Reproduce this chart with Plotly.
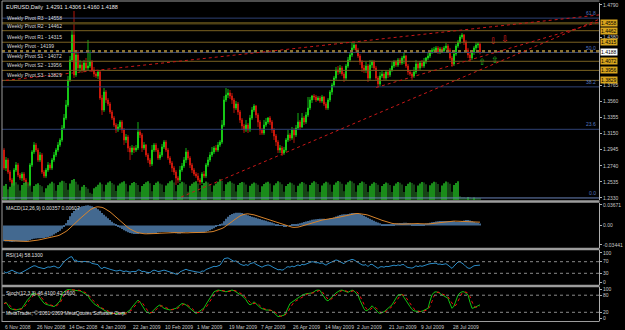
import plotly.graph_objects as go

# ---------------- DATA ----------------
date_labels = ["6 Nov 2008", "26 Nov 2008", "14 Dec 2008", "4 Jan 2009", "22 Jan 2009",
               "10 Feb 2009", "1 Mar 2009", "19 Mar 2009", "7 Apr 2009", "26 Apr 2009",
               "14 May 2009", "2 Jun 2009", "21 Jun 2009", "9 Jul 2009", "28 Jul 2009"]
date_label_bars = [0, 16, 32, 48, 64, 80, 96, 112, 128, 144, 160, 176, 192, 208, 224]

first_open = 1.2941
closes = [
1.2712, 1.2814, 1.2661, 1.2559, 1.2495, 1.2686, 1.2750, 1.2623, 1.2584, 1.2635,
1.2559, 1.2508, 1.2482, 1.2750, 1.2916, 1.3005, 1.2941, 1.2814, 1.2878, 1.2661,
1.2610, 1.2686, 1.2750, 1.2712, 1.2814, 1.2878, 1.2941, 1.3005, 1.3069, 1.3222,
1.3349, 1.3515, 1.3834, 1.4089, 1.4408, 1.3898, 1.4153, 1.3987, 1.4025, 1.3961,
1.4051, 1.3987, 1.4012, 1.4063, 1.3961, 1.3910, 1.3885, 1.3936, 1.3604, 1.3451,
1.3681, 1.3579, 1.3528, 1.3426, 1.3349, 1.3260, 1.3196, 1.3235, 1.3298, 1.3196,
1.3069, 1.3107, 1.2967, 1.2916, 1.2967, 1.2941, 1.2967, 1.3171, 1.3133, 1.2967,
1.3005, 1.2878, 1.2814, 1.2763, 1.2941, 1.3005, 1.2941, 1.2839, 1.2878, 1.2980,
1.3043, 1.2941, 1.2839, 1.2776, 1.2712, 1.2661, 1.2584, 1.2559, 1.2686, 1.2737,
1.2814, 1.2916, 1.2839, 1.2750, 1.2686, 1.2635, 1.2610, 1.2559, 1.2533, 1.2635,
1.2610, 1.2750, 1.2814, 1.2878, 1.2916, 1.2967, 1.2941, 1.3005, 1.3043, 1.3260,
1.3579, 1.3643, 1.3668, 1.3630, 1.3579, 1.3477, 1.3528, 1.3426, 1.3324, 1.3247,
1.3196, 1.3260, 1.3196, 1.3349, 1.3451, 1.3502, 1.3388, 1.3298, 1.3196, 1.3158,
1.3260, 1.3298, 1.3349, 1.3298, 1.3196, 1.3120, 1.3043, 1.2941, 1.2967, 1.2903,
1.2941, 1.3069, 1.3133, 1.3094, 1.3196, 1.3133, 1.3222, 1.3298, 1.3235, 1.3349,
1.3298, 1.3388, 1.3477, 1.3579, 1.3630, 1.3617, 1.3579, 1.3604, 1.3566, 1.3617,
1.3528, 1.3477, 1.3579, 1.3681, 1.3770, 1.3859, 1.3961, 1.3936, 1.3987, 1.3910,
1.3859, 1.4012, 1.4089, 1.4153, 1.4242, 1.4280, 1.4216, 1.4140, 1.4063, 1.3987,
1.3961, 1.4012, 1.3859, 1.4025, 1.4063, 1.3987, 1.3859, 1.3783, 1.3885, 1.3910,
1.3859, 1.3936, 1.3898, 1.3961, 1.4012, 1.4063, 1.4025, 1.4089, 1.4051, 1.4114,
1.4140, 1.4012, 1.3936, 1.3910, 1.3885, 1.3936, 1.4038, 1.3987, 1.4051, 1.4012,
1.4063, 1.4114, 1.4140, 1.4191, 1.4216, 1.4216, 1.4242, 1.4191, 1.4229, 1.4204,
1.4242, 1.4267, 1.4216, 1.4114, 1.4038, 1.4165, 1.4267, 1.4318, 1.4382, 1.4408,
1.4318, 1.4216, 1.4153, 1.4114, 1.4191, 1.4242, 1.4280, 1.4291, 1.4188,
]
highs = [
1.2967, 1.2852, 1.2839, 1.2686, 1.2584, 1.2712, 1.2788, 1.2776, 1.2648, 1.2661,
1.2661, 1.2584, 1.2533, 1.2776, 1.2941, 1.3043, 1.3031, 1.2967, 1.2916, 1.2903,
1.2686, 1.2712, 1.2788, 1.2776, 1.2839, 1.2916, 1.2967, 1.3043, 1.3094, 1.3260,
1.3400, 1.3579, 1.3885, 1.4140, 1.4471, 1.4713, 1.4216, 1.4216, 1.4089, 1.4063,
1.4089, 1.4114, 1.4344, 1.4216, 1.4089, 1.4000, 1.3936, 1.3961, 1.3961, 1.3643,
1.3732, 1.3706, 1.3604, 1.3553, 1.3451, 1.3375, 1.3286, 1.3273, 1.3324, 1.3324,
1.3222, 1.3145, 1.3133, 1.2992, 1.3005, 1.2992, 1.3005, 1.3298, 1.3196, 1.3158,
1.3043, 1.3018, 1.2903, 1.2839, 1.3005, 1.3031, 1.3031, 1.2967, 1.2916, 1.3018,
1.3069, 1.3069, 1.2967, 1.2865, 1.2801, 1.2737, 1.2686, 1.2610, 1.2737, 1.2776,
1.2852, 1.2967, 1.2941, 1.2865, 1.2776, 1.2712, 1.2661, 1.2648, 1.2584, 1.2661,
1.2674, 1.2776, 1.2852, 1.2916, 1.2980, 1.2992, 1.3005, 1.3043, 1.3069, 1.3324,
1.3630, 1.3732, 1.3719, 1.3706, 1.3668, 1.3604, 1.3566, 1.3553, 1.3451, 1.3349,
1.3273, 1.3324, 1.3286, 1.3388, 1.3490, 1.3528, 1.3515, 1.3413, 1.3324, 1.3222,
1.3324, 1.3349, 1.3362, 1.3375, 1.3324, 1.3222, 1.3145, 1.3069, 1.3005, 1.2992,
1.2980, 1.3094, 1.3196, 1.3158, 1.3235, 1.3222, 1.3260, 1.3413, 1.3324, 1.3413,
1.3375, 1.3426, 1.3617, 1.3617, 1.3643, 1.3655, 1.3643, 1.3630, 1.3630, 1.3643,
1.3630, 1.3553, 1.3604, 1.3706, 1.3796, 1.3885, 1.4000, 1.4012, 1.4025, 1.4012,
1.3936, 1.4038, 1.4127, 1.4178, 1.4318, 1.4318, 1.4293, 1.4242, 1.4165, 1.4089,
1.4025, 1.4063, 1.4038, 1.4089, 1.4089, 1.4089, 1.4012, 1.3885, 1.3936, 1.3961,
1.3936, 1.3961, 1.3961, 1.3987, 1.4063, 1.4089, 1.4089, 1.4114, 1.4114, 1.4140,
1.4178, 1.4153, 1.4038, 1.3961, 1.3936, 1.4000, 1.4089, 1.4063, 1.4076, 1.4089,
1.4114, 1.4127, 1.4178, 1.4216, 1.4242, 1.4255, 1.4267, 1.4267, 1.4255, 1.4255,
1.4267, 1.4306, 1.4293, 1.4242, 1.4140, 1.4191, 1.4293, 1.4344, 1.4408, 1.4433,
1.4420, 1.4344, 1.4242, 1.4191, 1.4216, 1.4267, 1.4318, 1.4318, 1.4306,
]
lows = [
1.2686, 1.2674, 1.2635, 1.2533, 1.2470, 1.2482, 1.2661, 1.2597, 1.2559, 1.2546,
1.2533, 1.2482, 1.2457, 1.2470, 1.2725, 1.2890, 1.2916, 1.2788, 1.2788, 1.2635,
1.2584, 1.2584, 1.2661, 1.2686, 1.2686, 1.2788, 1.2852, 1.2916, 1.2980, 1.3043,
1.3196, 1.3324, 1.3490, 1.3808, 1.4063, 1.3859, 1.3872, 1.3961, 1.3936, 1.3923,
1.3936, 1.3961, 1.3961, 1.3987, 1.3936, 1.3872, 1.3859, 1.3847, 1.3579, 1.3388,
1.3426, 1.3541, 1.3502, 1.3400, 1.3324, 1.3235, 1.3158, 1.3171, 1.3209, 1.3158,
1.3005, 1.3031, 1.2916, 1.2814, 1.2878, 1.2903, 1.2916, 1.2941, 1.3094, 1.2916,
1.2941, 1.2852, 1.2776, 1.2725, 1.2737, 1.2916, 1.2916, 1.2814, 1.2814, 1.2852,
1.2954, 1.2916, 1.2814, 1.2750, 1.2661, 1.2623, 1.2495, 1.2521, 1.2533, 1.2661,
1.2712, 1.2776, 1.2814, 1.2712, 1.2648, 1.2610, 1.2584, 1.2533, 1.2495, 1.2508,
1.2584, 1.2584, 1.2725, 1.2788, 1.2852, 1.2890, 1.2916, 1.2916, 1.2980, 1.3018,
1.3235, 1.3553, 1.3604, 1.3592, 1.3528, 1.3413, 1.3451, 1.3388, 1.3286, 1.3196,
1.3158, 1.3171, 1.3158, 1.3171, 1.3324, 1.3426, 1.3349, 1.3235, 1.3133, 1.3133,
1.3133, 1.3235, 1.3273, 1.3260, 1.3158, 1.3069, 1.2992, 1.2903, 1.2903, 1.2865,
1.2878, 1.2916, 1.3043, 1.3056, 1.3069, 1.3031, 1.3107, 1.3196, 1.3196, 1.3222,
1.3260, 1.3273, 1.3362, 1.3451, 1.3541, 1.3579, 1.3553, 1.3566, 1.3541, 1.3541,
1.3502, 1.3451, 1.3451, 1.3553, 1.3643, 1.3745, 1.3834, 1.3898, 1.3910, 1.3885,
1.3808, 1.3834, 1.3987, 1.4063, 1.4127, 1.4216, 1.4178, 1.4114, 1.4025, 1.3936,
1.3923, 1.3923, 1.3808, 1.3834, 1.3987, 1.3961, 1.3834, 1.3745, 1.3757, 1.3859,
1.3834, 1.3834, 1.3859, 1.3872, 1.3936, 1.3987, 1.4000, 1.4000, 1.4025, 1.4025,
1.4038, 1.3987, 1.3898, 1.3885, 1.3834, 1.3859, 1.3910, 1.3961, 1.3961, 1.3987,
1.3987, 1.4038, 1.4089, 1.4114, 1.4165, 1.4178, 1.4191, 1.4165, 1.4165, 1.4178,
1.4178, 1.4216, 1.4191, 1.4089, 1.4000, 1.4012, 1.4140, 1.4242, 1.4293, 1.4357,
1.4280, 1.4178, 1.4114, 1.4063, 1.4089, 1.4153, 1.4216, 1.4242, 1.4160,
]
volumes = [
12000, 13500, 9000, 11000, 14000, 15500, 14800, 13000, 8000, 12500,
14500, 15000, 13800, 12200, 7000, 11800, 13200, 14100, 12600, 11500,
6500, 9800, 12400, 13800, 15200, 14000, 7800, 12600, 14900, 16200,
15800, 14300, 8500, 13900, 16800, 17500, 15200, 13000, 8000, 11200,
12500, 10800, 9500, 6000, 5200, 9800, 11200, 12800, 14600, 13200,
7200, 12800, 14600, 15800, 14200, 12900, 7600, 12100, 13900, 14800,
15600, 13700, 7100, 12300, 14200, 15100, 14300, 12600, 6900, 11800,
13500, 14900, 15700, 14100, 7400, 12600, 14400, 15500, 13800, 12900,
6800, 12200, 14000, 15800, 16500, 14700, 7300, 12500, 14100, 15200,
14600, 13100, 7000, 11900, 13700, 14800, 15600, 13900, 7200, 12400,
14300, 15400, 14700, 13300, 6900, 12100, 13800, 15200, 17400, 16100,
7500, 13200, 14900, 15800, 14400, 13600, 7100, 12600, 14200, 15100,
14600, 13000, 6800, 12000, 13600, 14700, 14100, 12800, 6700, 11600,
13400, 14600, 15300, 13900, 7000, 12300, 14100, 15600, 14800, 13200,
6900, 11800, 13500, 14700, 14000, 12700, 6600, 11900, 13800, 15000,
14400, 13100, 7100, 12600, 14500, 15700, 14900, 13400, 6800, 12200,
14000, 15300, 14600, 13000, 6900, 12800, 14700, 16000, 15200, 13700,
7300, 12900, 14800, 16100, 15500, 14000, 7000, 12400, 14300, 15400,
14800, 13300, 6700, 11900, 13600, 14800, 14200, 12800, 6600, 11700,
13400, 14600, 14000, 12600, 6800, 12000, 13800, 15000, 14500, 13000,
6700, 11800, 13600, 14900, 14300, 12900, 6600, 12100, 13900, 15100,
14600, 13100, 6900, 12300, 14100, 15300, 14800, 13400, 6800, 12200,
14000, 15400, 14900, 13600, 7000, 12500, 14300, 15600, 3200, 2400,
2200, 1800, 2600, 2000, 1500, 2100, 1700, 1300, 900,
]
macd_main = [
-0.0280, -0.0282, -0.0285, -0.0288, -0.0290, -0.0288, -0.0285, -0.0284, -0.0283, -0.0282, -0.0281,
-0.0275, -0.0268, -0.0258, -0.0245, -0.0236, -0.0230, -0.0226, -0.0224, -0.0222, -0.0221,
-0.0214, -0.0205, -0.0195, -0.0180, -0.0160, -0.0138, -0.0115, -0.0090,
-0.0055, -0.0015, 0.0040, 0.0100, 0.0165, 0.0225,
0.0260, 0.0290, 0.0312, 0.0330, 0.0342, 0.0350, 0.0356, 0.0360,
0.0352, 0.0342, 0.0330, 0.0312, 0.0290, 0.0262, 0.0225, 0.0192, 0.0160, 0.0130,
0.0100, 0.0070, 0.0040, 0.0012, -0.0015, -0.0040, -0.0062, -0.0082, -0.0100, -0.0118, -0.0130, -0.0142,
-0.0150, -0.0152, -0.0148, -0.0142, -0.0140, -0.0140, -0.0142, -0.0148, -0.0152, -0.0145, -0.0136, -0.0130, -0.0125, -0.0120, -0.0115, -0.0112,
-0.0112, -0.0115, -0.0120, -0.0126, -0.0132, -0.0138, -0.0143, -0.0140, -0.0133, -0.0124, -0.0115, -0.0112, -0.0114, -0.0118, -0.0122,
-0.0124, -0.0125, -0.0126, -0.0125, -0.0118, -0.0110, -0.0098, -0.0084, -0.0066, -0.0046, -0.0026, -0.0006, 0.0014, 0.0036, 0.0075,
0.0120, 0.0158, 0.0188, 0.0208, 0.0220, 0.0228, 0.0230, 0.0228, 0.0222, 0.0212,
0.0198, 0.0185, 0.0170, 0.0158, 0.0148, 0.0138, 0.0128, 0.0118, 0.0106, 0.0094, 0.0084, 0.0074, 0.0064, 0.0054, 0.0042,
0.0030, 0.0018, 0.0006, -0.0004, -0.0010, -0.0008, 0.0000, 0.0008, 0.0012, 0.0018, 0.0024, 0.0032, 0.0042, 0.0052, 0.0062,
0.0072, 0.0082, 0.0092, 0.0102, 0.0110, 0.0114, 0.0118, 0.0120, 0.0120, 0.0120, 0.0118, 0.0118, 0.0124, 0.0134, 0.0146,
0.0160, 0.0175, 0.0188, 0.0196, 0.0200, 0.0202, 0.0208, 0.0215, 0.0222, 0.0226, 0.0224, 0.0218, 0.0208, 0.0194, 0.0176,
0.0158, 0.0140, 0.0120, 0.0102, 0.0086, 0.0070, 0.0054, 0.0040, 0.0030, 0.0024, 0.0020, 0.0018, 0.0020, 0.0024, 0.0030,
0.0036, 0.0040, 0.0044, 0.0048, 0.0050, 0.0050, 0.0048, 0.0042, 0.0034, 0.0026, 0.0020, 0.0018, 0.0020, 0.0024, 0.0030,
0.0036, 0.0042, 0.0050, 0.0058, 0.0066, 0.0072, 0.0076, 0.0080, 0.0082, 0.0082, 0.0082, 0.0082, 0.0083, 0.0082, 0.0076,
0.0066, 0.0064, 0.0070, 0.0080, 0.0090, 0.0098, 0.0098, 0.0090, 0.0076, 0.0064, 0.0056, 0.0050, 0.0036,
]
macd_signal = [
-0.0262, -0.0265, -0.0268, -0.0270, -0.0272, -0.0274, -0.0276, -0.0278, -0.0280, -0.0281, -0.0282, -0.0282, -0.0281, -0.0279, -0.0276,
-0.0271, -0.0265, -0.0258, -0.0251, -0.0244, -0.0237, -0.0231, -0.0225, -0.0219, -0.0212, -0.0203, -0.0192, -0.0180, -0.0166,
-0.0149, -0.0128, -0.0104, -0.0077, -0.0047, -0.0014, 0.0021, 0.0056, 0.0090, 0.0124, 0.0158, 0.0190, 0.0222, 0.0252,
0.0278, 0.0300, 0.0318, 0.0330, 0.0334, 0.0332, 0.0324, 0.0310, 0.0292, 0.0270,
0.0244, 0.0214, 0.0182, 0.0148, 0.0114, 0.0080, 0.0048, 0.0018, -0.0010, -0.0036, -0.0060, -0.0082,
-0.0100, -0.0114, -0.0126, -0.0135, -0.0141, -0.0145, -0.0147, -0.0148, -0.0149, -0.0148, -0.0146, -0.0143, -0.0140, -0.0136, -0.0133, -0.0129,
-0.0125, -0.0122, -0.0121, -0.0121, -0.0122, -0.0124, -0.0127, -0.0130, -0.0132, -0.0132, -0.0131, -0.0129, -0.0126, -0.0123, -0.0120,
-0.0119, -0.0119, -0.0120, -0.0121, -0.0121, -0.0120, -0.0118, -0.0114, -0.0109, -0.0101, -0.0091, -0.0079, -0.0066, -0.0051, -0.0033,
-0.0011, 0.0015, 0.0043, 0.0071, 0.0099, 0.0126, 0.0150, 0.0172, 0.0189, 0.0201,
0.0207, 0.0209, 0.0206, 0.0200, 0.0191, 0.0180, 0.0168, 0.0157, 0.0146, 0.0135, 0.0124, 0.0114, 0.0104, 0.0094, 0.0084,
0.0072, 0.0058, 0.0043, 0.0028, 0.0014, 0.0001, -0.0011, -0.0021, -0.0028, -0.0032, -0.0032, -0.0027, -0.0018, -0.0007, 0.0004,
0.0016, 0.0028, 0.0040, 0.0052, 0.0064, 0.0074, 0.0083, 0.0091, 0.0098, 0.0104, 0.0109, 0.0113, 0.0117, 0.0121, 0.0126,
0.0135, 0.0143, 0.0152, 0.0161, 0.0170, 0.0179, 0.0188, 0.0196, 0.0204, 0.0210, 0.0214, 0.0215, 0.0213, 0.0209, 0.0203,
0.0195, 0.0186, 0.0175, 0.0163, 0.0150, 0.0136, 0.0122, 0.0108, 0.0094, 0.0081, 0.0069, 0.0058, 0.0048, 0.0040, 0.0034,
0.0029, 0.0026, 0.0025, 0.0025, 0.0027, 0.0030, 0.0033, 0.0036, 0.0038, 0.0039, 0.0038, 0.0036, 0.0033, 0.0030, 0.0028,
0.0028, 0.0029, 0.0032, 0.0036, 0.0041, 0.0046, 0.0052, 0.0058, 0.0063, 0.0068, 0.0072, 0.0075, 0.0078, 0.0080, 0.0080,
0.0079, 0.0077, 0.0076, 0.0075, 0.0075, 0.0076, 0.0077, 0.0077, 0.0076, 0.0073, 0.0069, 0.0065, 0.0061,
]
rsi = [
36, 31, 34, 38, 41, 37, 33, 31, 30, 33,
37, 41, 45, 50, 53, 56, 55, 51, 50, 48,
46, 49, 52, 51, 53, 55, 52, 48, 51, 62,
70, 76, 82, 86, 87, 74, 76, 70, 71, 69,
71, 70, 70, 69, 64, 62, 61, 60, 50, 46,
51, 48, 47, 44, 42, 40, 38, 39, 41, 38,
36, 38, 35, 34, 36, 35, 36, 42, 41, 36,
37, 34, 33, 32, 38, 41, 39, 36, 37, 40,
41, 39, 36, 34, 32, 30, 27, 27, 35, 38,
41, 44, 41, 39, 37, 36, 35, 34, 33, 38,
37, 43, 46, 49, 51, 54, 53, 56, 58, 68,
80, 82, 83, 79, 76, 71, 73, 67, 62, 59,
57, 60, 57, 63, 66, 67, 61, 58, 53, 51,
55, 57, 59, 57, 52, 49, 46, 42, 43, 41,
43, 50, 53, 51, 55, 52, 56, 59, 56, 61,
59, 62, 66, 69, 70, 69, 66, 67, 64, 66,
61, 58, 63, 67, 70, 73, 76, 74, 70, 66,
63, 70, 72, 75, 78, 76, 71, 67, 63, 59,
58, 60, 53, 60, 61, 57, 51, 47, 52, 53,
51, 54, 53, 55, 56, 58, 56, 59, 57, 60,
60, 53, 50, 49, 48, 51, 56, 53, 56, 54,
57, 60, 61, 63, 64, 64, 65, 61, 62, 60,
62, 63, 58, 52, 47, 55, 63, 69, 70, 66,
60, 53, 48, 47, 52, 56, 57, 58, 58.13,
]
stoch_k = [
51, 55, 45, 34, 31, 29, 28, 30, 32, 34,
45, 57, 66, 72, 86, 86, 83, 81, 70, 60,
52, 48, 46, 44, 42, 40, 45, 52, 60, 85,
92, 97, 100, 99, 99, 98, 98, 97, 95, 92,
88, 84, 78, 66, 57, 50, 45, 40, 35, 31,
28, 24, 20, 17, 16, 16, 15, 16, 16, 16,
16, 18, 22, 28, 38, 47, 55, 63, 56, 46,
32, 22, 19, 16, 22, 30, 36, 42, 46, 40,
34, 32, 30, 28, 30, 32, 34, 40, 46, 51,
49, 46, 40, 34, 28, 20, 16, 20, 24, 28,
35, 48, 60, 69, 85, 92, 95, 98, 97, 95,
93, 92, 94, 96, 98, 96, 92, 88, 84, 78,
72, 64, 52, 46, 50, 57, 50, 42, 37, 33,
29, 28, 28, 28, 26, 18, 10, 5, 6, 8,
10, 20, 34, 51, 56, 60, 64, 68, 75, 80,
83, 85, 86, 87, 88, 92, 97, 98, 97, 85,
73, 64, 60, 66, 74, 81, 88, 94, 97, 98,
95, 92, 90, 94, 98, 95, 88, 80, 62, 46,
32, 25, 28, 34, 43, 36, 28, 20, 16, 18,
22, 28, 34, 40, 46, 58, 70, 81, 82, 83,
72, 60, 51, 40, 30, 25, 24, 23, 22, 24,
27, 30, 34, 60, 81, 90, 92, 90, 86, 82,
78, 74, 69, 50, 34, 42, 60, 81, 88, 92,
92, 88, 81, 55, 34, 36, 40, 44, 46.41,
]
stoch_d = [
50, 53, 50, 45, 37, 31, 29, 29, 30, 32,
37, 45, 56, 65, 75, 81, 85, 83, 78, 70,
61, 53, 49, 46, 44, 42, 42, 46, 52, 66,
79, 91, 96, 99, 99, 99, 98, 98, 97, 95,
92, 88, 83, 76, 67, 58, 51, 45, 40, 35,
31, 28, 24, 20, 18, 16, 16, 16, 16, 16,
16, 17, 19, 23, 29, 38, 47, 55, 58, 55,
45, 33, 24, 19, 19, 23, 29, 36, 41, 43,
40, 35, 32, 30, 29, 30, 32, 35, 40, 46,
49, 49, 45, 40, 34, 27, 21, 19, 20, 24,
29, 37, 48, 59, 71, 82, 91, 95, 97, 97,
95, 93, 93, 94, 96, 97, 95, 92, 88, 83,
78, 71, 63, 54, 49, 51, 52, 50, 43, 37,
33, 30, 28, 28, 27, 24, 18, 11, 7, 6,
8, 13, 21, 35, 47, 56, 60, 64, 69, 74,
79, 83, 85, 86, 87, 89, 92, 96, 97, 93,
85, 74, 66, 63, 67, 74, 81, 88, 93, 96,
97, 95, 92, 92, 94, 96, 94, 88, 77, 63,
47, 34, 28, 29, 35, 38, 36, 28, 21, 18,
19, 23, 28, 34, 40, 48, 58, 70, 78, 82,
79, 72, 61, 50, 40, 32, 26, 24, 23, 23,
24, 27, 30, 41, 58, 77, 88, 91, 89, 86,
82, 78, 74, 64, 51, 42, 45, 61, 76, 87,
91, 91, 87, 75, 57, 42, 37, 40, 42.16,
]

pivot_names = ["R3", "R2", "R1", "", "S1", "S2", "S3"]
pivot_levels = [1.4558, 1.4462, 1.4315, 1.4199, 1.4072, 1.3956, 1.3829]
fib_names = ["61.8", "50.0", "38.2", "23.6", "0.0"]
fib_levels = [1.4622, 1.4184, 1.3746, 1.3205, 1.2330]
price_ticks = [1.4790, 1.4380, 1.3765, 1.3560, 1.3355, 1.3150, 1.2945, 1.2740, 1.2535, 1.2330]
macd_ticks = [0.03671, 0.0, -0.03441]
macd_tick_text = ["0.03671", "0.00", "-0.03441"]
rsi_ticks = [100, 70, 30, 0]
stoch_ticks = [100, 80, 20, 0]
# trend lines: (bar0, price0, bar1, price1)
trend_lines = [(-2.0, 1.3821, 297.5, 1.4663),
               (88.6, 1.2342, 297.5, 1.4607),
               (186.1, 1.3738, 297.5, 1.4573)]
sell_arrows_x = [244.6, 250.5]
sell_arrows_y = [1.4318, 1.4344]
buy_arrows_x = [239.1, 245.5]
buy_arrows_y = [1.4051, 1.4076]
header_text = "EURUSD,Daily  1.4291 1.4306 1.4160 1.4188"

# ---------------- FIGURE ----------------
n = min(len(closes), len(highs), len(lows), len(volumes), len(macd_main),
        len(macd_signal), len(rsi), len(stoch_k), len(stoch_d))
idx = list(range(n))
opens = ([first_open] + closes[:-1])[:n]

W, H = 625, 330
ML, MR, MT, MB = 2, 20, 3, 9
PW, PH = W - ML - MR, H - MT - MB


def py(ypx):
    return (H - MB - ypx) / PH


def pxp(xpx):
    return (xpx - ML) / PW


GREEN = "#19E019"
RED = "#E01A0C"
FONT = "Liberation Sans"
AXC = "#C8C8C8"

fig = go.Figure()

vol_cols = ["#1FA51F" if i == 0 or volumes[i] >= volumes[i - 1] else "#1A501A" for i in idx]
fig.add_trace(go.Bar(x=idx, y=volumes[:n], marker=dict(color=vol_cols, line=dict(width=0)),
                     opacity=0.85, width=0.45, xaxis="x", yaxis="y5"))

fig.add_trace(go.Candlestick(
    x=idx, open=opens, high=highs[:n], low=lows[:n], close=closes[:n],
    increasing=dict(line=dict(color=GREEN, width=0.8), fillcolor=GREEN),
    decreasing=dict(line=dict(color=RED, width=0.8), fillcolor=RED),
    whiskerwidth=0, xaxis="x", yaxis="y"))

fig.add_trace(go.Scatter(x=sell_arrows_x, y=sell_arrows_y, mode="text", text=["\u21e9"] * 2,
                         textfont=dict(color="#E02020", size=9, family="DejaVu Sans"),
                         xaxis="x", yaxis="y"))
fig.add_trace(go.Scatter(x=buy_arrows_x, y=buy_arrows_y, mode="text", text=["\u21e7"] * 2,
                         textfont=dict(color="#20C020", size=9, family="DejaVu Sans"),
                         xaxis="x", yaxis="y"))

fig.add_trace(go.Bar(x=idx, y=macd_main[:n], marker=dict(color="#5A8CC0", line=dict(width=0)),
                     opacity=0.75, width=0.45, xaxis="x", yaxis="y2"))
fig.add_trace(go.Scatter(x=idx, y=macd_signal[:n], mode="lines",
                         line=dict(color="#D8842C", width=1), xaxis="x", yaxis="y2"))

fig.add_trace(go.Scatter(x=idx, y=rsi[:n], mode="lines",
                         line=dict(color="#2A8BC6", width=1), xaxis="x", yaxis="y3"))

fig.add_trace(go.Scatter(x=idx, y=stoch_k[:n], mode="lines",
                         line=dict(color="#12C012", width=1), xaxis="x", yaxis="y4"))
fig.add_trace(go.Scatter(x=idx, y=stoch_d[:n], mode="lines",
                         line=dict(color="#F01010", width=1, dash="dot"), xaxis="x", yaxis="y4"))

shapes = []
for name, lv in zip(fib_names, fib_levels):
    shapes.append(dict(type="line", xref="paper", x0=0, x1=1, yref="y", y0=lv, y1=lv,
                       line=dict(color="#6A82B8" if name == "0.0" else "#2F4275", width=1)))
for name, lv in zip(pivot_names, pivot_levels):
    if name == "":
        st = dict(color="#8C7330", width=2.5, dash="dot")
    elif name == "R3":
        st = dict(color="#4E4014", width=2.5)
    else:
        st = dict(color="#7A6222", width=1)
    shapes.append(dict(type="line", xref="paper", x0=0, x1=1, yref="y", y0=lv, y1=lv, line=st))
for (xa, ya, xb, yb) in trend_lines:
    shapes.append(dict(type="line", xref="x", x0=xa, x1=xb, yref="y", y0=ya, y1=yb,
                       line=dict(color="#C81818", width=1, dash="dot")))
for lv in [70, 30]:
    shapes.append(dict(type="line", xref="paper", x0=0, x1=1, yref="y3", y0=lv, y1=lv,
                       line=dict(color="#8A8A8A", width=1, dash="dot")))
for lv in [80, 20]:
    shapes.append(dict(type="line", xref="paper", x0=0, x1=1, yref="y4", y0=lv, y1=lv,
                       line=dict(color="#8A8A8A", width=1, dash="dot")))
BC = "#9C9C9C"
for ypx, wdt in [(1, 1), (201.5, 2.5), (249, 2.5), (286, 2.5), (321.5, 1)]:
    shapes.append(dict(type="line", xref="paper", x0=pxp(2), x1=pxp(605.5), yref="paper",
                       y0=py(ypx), y1=py(ypx), line=dict(color=BC, width=wdt)))
shapes.append(dict(type="line", xref="paper", x0=pxp(2), x1=pxp(2), yref="paper",
                   y0=py(322), y1=py(1), line=dict(color=BC, width=1)))

ann = []
ann.append(dict(text=header_text, xref="paper", yref="paper", x=pxp(4), y=py(2),
                xanchor="left", yanchor="top", showarrow=False,
                font=dict(family=FONT, size=5.5, color="#E8E8E8")))
for name, lv in zip(pivot_names, pivot_levels):
    label = ("Weekly Pivot " + (name + " " if name else "") + "- " + str(int(round(lv * 10000))))
    ann.append(dict(text=label, xref="paper", yref="y", x=pxp(5), y=lv, xanchor="left",
                    yanchor="bottom", showarrow=False, yshift=0,
                    font=dict(family=FONT, size=5, color="#D8D8D8")))
    if name:
        ann.append(dict(text="%.4f" % lv, xref="paper", yref="y", x=1, y=lv, xanchor="left",
                        yanchor="middle", xshift=1, showarrow=False, bgcolor="#D9A61E",
                        borderpad=0, font=dict(family=FONT, size=5, color="#000000")))
for name, lv in zip(fib_names, fib_levels):
    ann.append(dict(text=name, xref="paper", yref="y", x=1, y=lv, xanchor="right",
                    yanchor="bottom", xshift=-1, showarrow=False,
                    font=dict(family=FONT, size=5, color="#5577C0")))
ann.append(dict(text="%.4f" % closes[n - 1], xref="paper", yref="y", x=1, y=closes[n - 1],
                xanchor="left", yanchor="middle", xshift=1, showarrow=False,
                bgcolor="#FFFFFF", borderpad=0, font=dict(family=FONT, size=5, color="#000000")))
ann.append(dict(text="MACD(12,26,9) %.5f %.5f" % (0.00357, 0.00607), xref="paper", yref="paper",
                x=pxp(4), y=py(203), xanchor="left", yanchor="top", showarrow=False,
                font=dict(family=FONT, size=5, color="#E0E0E0")))
ann.append(dict(text="RSI(14) %.4f" % rsi[n - 1], xref="paper", yref="paper",
                x=pxp(4), y=py(250), xanchor="left", yanchor="top", showarrow=False,
                font=dict(family=FONT, size=5, color="#E0E0E0")))
ann.append(dict(text="Stoch(12,3,3) %.4f %.4f" % (stoch_k[n - 1], stoch_d[n - 1]), xref="paper",
                yref="paper", x=pxp(4), y=py(287.5), xanchor="left", yanchor="top",
                showarrow=False, font=dict(family=FONT, size=5, color="#E0E0E0")))
ann.append(dict(text="MetaTrader, \u00a9 2001-2009 MetaQuotes Software Corp.", xref="paper",
                yref="paper", x=pxp(4), y=py(313), xanchor="left", yanchor="middle",
                showarrow=False, font=dict(family=FONT, size=5, color="#E0E0E0")))
for b, t in zip(date_label_bars, date_labels):
    ann.append(dict(text=t, xref="x", yref="paper", x=b, y=py(322), xanchor="left",
                    yanchor="top", xshift=-1, showarrow=False,
                    font=dict(family=FONT, size=5, color=AXC)))

yax_common = dict(side="right", anchor="x", showgrid=False, zeroline=False, showline=True,
                  linecolor="#B0B0B0", linewidth=1, ticks="outside", ticklen=2,
                  tickcolor="#B0B0B0", tickfont=dict(family=FONT, size=5, color=AXC),
                  fixedrange=True)

fig.update_layout(
    width=W, height=H, margin=dict(l=ML, r=MR, t=MT, b=MB),
    paper_bgcolor="#000000", plot_bgcolor="#000000",
    showlegend=False, hovermode=False, barmode="overlay",
    xaxis=dict(domain=[0, 1], range=[-1, 297.5], visible=False, fixedrange=True,
               rangeslider=dict(visible=False), anchor="y4"),
    yaxis=dict(domain=[py(200), 1.0], range=[1.2304, 1.4815], tickvals=price_ticks,
               ticktext=["%.4f" % v for v in price_ticks], **yax_common),
    yaxis2=dict(domain=[py(248), py(203)], range=[-0.0399, 0.0402], tickvals=macd_ticks,
                ticktext=macd_tick_text, **yax_common),
    yaxis3=dict(domain=[py(285), py(250)], range=[-10.3, 110.3], tickvals=rsi_ticks,
                ticktext=[str(v) for v in rsi_ticks], **yax_common),
    yaxis4=dict(domain=[0, py(287)], range=[-10.5, 108.8], tickvals=stoch_ticks,
                ticktext=[str(v) for v in stoch_ticks], **yax_common),
    yaxis5=dict(overlaying="y", anchor="x", range=[0, 165000], visible=False, fixedrange=True),
    shapes=shapes, annotations=ann,
)

fig.write_html("out.html")
